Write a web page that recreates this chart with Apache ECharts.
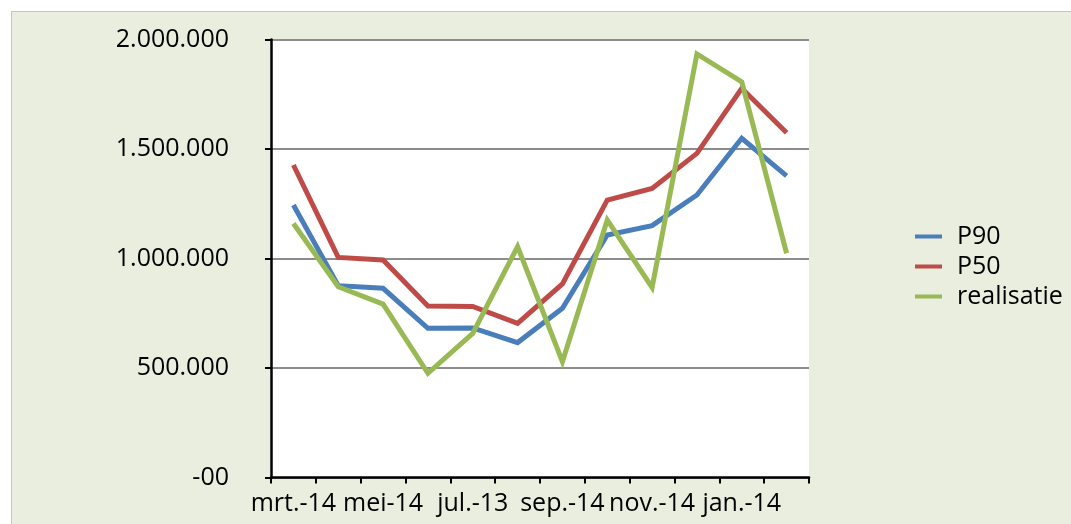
<!DOCTYPE html>
<html>
<head>
<meta charset="utf-8">
<script src="https://cdn.jsdelivr.net/npm/echarts@6/dist/echarts.min.js"></script>
<style>
  html, body { margin: 0; padding: 0; background: #ffffff; width: 1071px; height: 524px; overflow: hidden; }
  #bg { position: absolute; left: 11px; top: 11px; right: 0; bottom: 0; background: #EAEEDE; border-top: 1px solid #C4C7BC; border-left: 1px solid #C4C7BC; }
  #chart { position: absolute; left: 0; top: 0; width: 1071px; height: 524px; }
</style>
</head>
<body>
<div id="bg"></div>
<div id="chart"></div>
<script>
const categories = ['mrt.-14','apr.-14','mei-14','jun.-14','jul.-13','aug.-13','sep.-14','okt.-14','nov.-14','dec.-14','jan.-14','feb.-14'];
const p90 = [1244000, 876000, 864000, 681000, 683000, 616000, 773000, 1107000, 1150000, 1290000, 1549000, 1377000];
const p50 = [1427000, 1005000, 993000, 783000, 781000, 704000, 884000, 1267000, 1320000, 1480000, 1777000, 1574000];
const realisatie = [1160000, 871000, 792000, 476000, 658000, 1054000, 529000, 1176000, 868000, 1934000, 1807000, 1024000];
const yTickLabels = ['-00', '500.000', '1.000.000', '1.500.000', '2.000.000'];
const seriesNames = ['P90', 'P50', 'realisatie'];

const FONT = '"Open Sans", sans-serif';
const chart = echarts.init(document.getElementById('chart'), null, { renderer: 'canvas' });
const colors = ['#4A7EBB', '#BE4B48', '#98B954'];
const mk = (name, data, i) => ({
  name, type: 'line', data, showSymbol: false, symbol: 'none',
  lineStyle: { color: colors[i], width: 5, join: 'miter' },
  itemStyle: { color: colors[i] }, z: 3 + i, animation: false
});
chart.setOption({
  animation: false,
  backgroundColor: 'transparent',
  textStyle: { fontFamily: FONT },
  grid: { left: 271, right: 262, top: 39.5, bottom: 46.5, show: true, backgroundColor: '#ffffff', borderWidth: 0 },
  legend: {
    orient: 'vertical', left: 910, top: 219, padding: 5,
    icon: 'rect', itemWidth: 27, itemHeight: 4, itemGap: 5,
    textStyle: { fontFamily: FONT, fontSize: 25, color: '#000', lineHeight: 25, padding: [0, 0, 0, 10] },
    data: seriesNames
  },
  xAxis: {
    type: 'category', data: categories, boundaryGap: true,
    axisLine: { lineStyle: { color: '#000', width: 2.5 } },
    axisTick: { show: true, interval: 0, length: 6, lineStyle: { color: '#000', width: 2 } },
    axisLabel: { interval: 1, margin: 14, fontFamily: FONT, fontSize: 25, color: '#000' },
    splitLine: { show: false }
  },
  yAxis: {
    type: 'value', min: 0, max: 2000000, interval: 500000,
    axisLine: { show: true, lineStyle: { color: '#000', width: 2.5 } },
    axisTick: { show: true, length: 6, lineStyle: { color: '#000', width: 2 } },
    axisLabel: { margin: 42, fontFamily: FONT, fontSize: 25, color: '#000',
      formatter: v => yTickLabels[Math.round(v / 500000)] },
    splitLine: { show: true, lineStyle: { color: '#8C8C8C', width: 2 } }
  },
  series: [mk(seriesNames[0], p90, 0), mk(seriesNames[1], p50, 1), mk(seriesNames[2], realisatie, 2)]
});
</script>
</body>
</html>
